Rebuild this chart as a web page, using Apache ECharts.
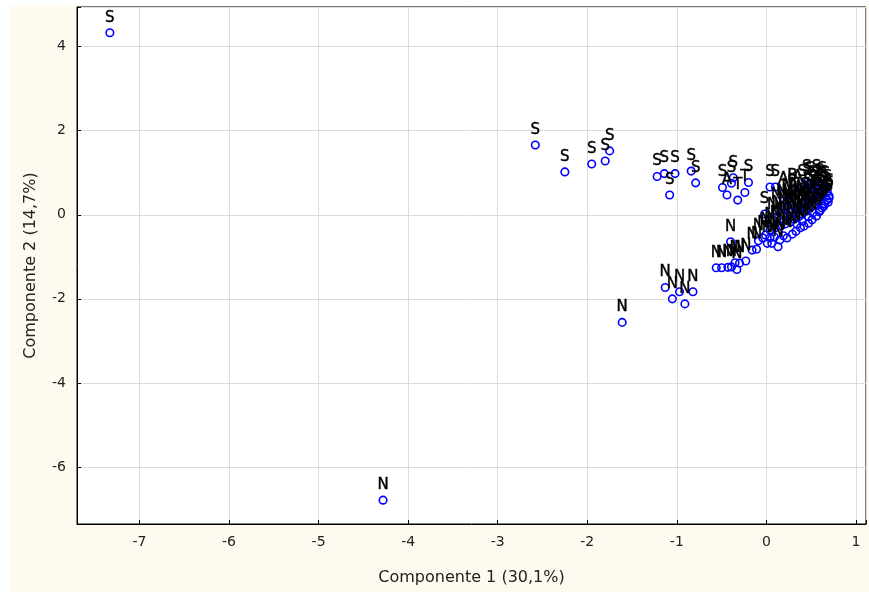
<!DOCTYPE html>
<html>
<head>
<meta charset="utf-8">
<title>Componentes principales</title>
<script src="https://cdn.jsdelivr.net/npm/echarts@6/dist/echarts.min.js"></script>
<style>
  html, body { margin: 0; padding: 0; background: #ffffff; }
  #wrap { position: relative; width: 869px; height: 592px; background: #ffffff; }
  #paper { position: absolute; left: 10px; top: 5px; width: 859px; height: 587px; background: #fffaf0; }
  #chart { position: absolute; left: 0; top: 0; width: 869px; height: 592px; }
</style>
</head>
<body>
<div id="wrap">
  <div id="paper"></div>
  <div id="chart"></div>
</div>
<script>
// Scores on the first two principal components, one entry per sample
const comp1 = [
  -7.33, -4.28, -2.58, -2.25, -1.95, -1.80, -1.75, -1.61,
  -1.22, -1.14, -1.02, -1.08, -0.84, -0.79,
  -1.13, -1.05, -0.97, -0.91, -0.82,
  -0.49, -0.44, -0.39, -0.32, -0.24, -0.20, -0.37,
  -0.56, -0.50, -0.43, -0.39, -0.35, -0.33, -0.30, -0.23, -0.40,
  -0.16, -0.11, -0.09, 0.01, 0.06, 0.13, -0.04, -0.01, 0.04,
  0.09, 0.15, 0.19, 0.23, 0.29, 0.33, 0.38, 0.42, 0.47, 0.51, 0.56,
  0.59, 0.62, 0.65, 0.68, 0.70, 0.68, 0.64,
  0.04, 0.10, 0.16, 0.21, 0.27, 0.31, 0.36, 0.40, 0.44, 0.49,
  0.53, 0.57, 0.60, 0.61, 0.59, 0.56,
  0.07, 0.12, 0.19, 0.25, 0.29, 0.35, 0.39,
  0.43, 0.47, 0.50, 0.52, 0.49, 0.45, 0.40, 0.35, 0.29,
  0.23, 0.17, 0.11,
  0.04, 0.10, 0.19, 0.29, 0.46, -0.02, 0.23, 0.32,
  0.55, 0.58, 0.54, 0.50, 0.46, 0.42, 0.38, 0.33, 0.28,
  0.62, 0.66, 0.70, 0.69, 0.64, 0.60, 0.52, 0.47, 0.40, 0.34
];
const comp2 = [
  4.33, -6.79, 1.66, 1.02, 1.21, 1.28, 1.52, -2.56,
  0.91, 0.98, 0.98, 0.47, 1.04, 0.76,
  -1.73, -2.00, -1.83, -2.12, -1.83,
  0.65, 0.47, 0.75, 0.35, 0.53, 0.77, 0.88,
  -1.26, -1.26, -1.25, -1.24, -1.14, -1.30, -1.15, -1.10, -0.64,
  -0.84, -0.82, -0.62, -0.68, -0.68, -0.76, -0.55, -0.48, -0.55,
  -0.53, -0.60, -0.50, -0.55, -0.46, -0.39, -0.31, -0.27, -0.20, -0.12, -0.03,
  0.07, 0.16, 0.26, 0.35, 0.45, 0.54, 0.64,
  -0.36, -0.31, -0.27, -0.22, -0.17, -0.10, -0.05, 0.02, 0.09, 0.16,
  0.23, 0.33, 0.42, 0.54, 0.69, 0.78,
  -0.12, -0.08, -0.01, 0.07, 0.14, 0.21, 0.28,
  0.35, 0.45, 0.54, 0.64, 0.73, 0.78, 0.66, 0.54, 0.42,
  0.33, 0.21, 0.11,
  0.66, 0.66, 0.50, 0.57, 0.71, 0.02, 0.19, 0.35,
  0.60, 0.50, 0.42, 0.35, 0.25, 0.18, 0.10, 0.03, -0.04,
  0.72, 0.62, 0.40, 0.30, 0.20, 0.10, 0.05, -0.05, -0.15, -0.22
];
const groups = [
  'S', 'N', 'S', 'S', 'S', 'S', 'S', 'N',
  'S', 'S', 'S', 'S', 'S', 'S',
  'N', 'N', 'N', 'N', 'N',
  'S', 'A', 'S', 'T', 'T', 'S', 'S',
  'N', 'N', 'N', 'N', 'N', 'N', 'N', 'N', 'N',
  'N', 'N', 'N', 'N', 'N', 'N', 'N', 'N', 'N',
  'N', 'N', 'N', 'N', 'N', 'N', 'N', 'N', 'N', 'N', 'N',
  'S', 'S', 'S', 'S', 'S', 'S', 'S',
  'N', 'N', 'N', 'N', 'N', 'N', 'N', 'N', 'N', 'N',
  'S', 'S', 'S', 'S', 'S', 'S',
  'N', 'N', 'N', 'N', 'N', 'N', 'N',
  'S', 'S', 'S', 'S', 'S', 'S', 'S', 'A', 'B',
  'N', 'N', 'N',
  'S', 'S', 'A', 'B', 'S', 'S', 'N', 'N',
  'S', 'S', 'S', 'N', 'N', 'N', 'N', 'N', 'N',
  'S', 'S', 'S', 'S', 'S', 'S', 'N', 'N', 'N', 'N'
];

const xAxisTitle = 'Componente 1 (30,1%)';
const yAxisTitle = 'Componente 2 (14,7%)';

const points = comp1.map((x, i) => [x, comp2[i], groups[i]]);

const FONT = '"DejaVu Sans", Verdana, sans-serif';
const intLabel = v => (Math.abs(v - Math.round(v)) < 1e-6 ? String(Math.round(v)) : '');

const chart = echarts.init(document.getElementById('chart'), null, { renderer: 'canvas' });
chart.setOption({
  backgroundColor: 'transparent',
  animation: false,
  textStyle: { fontFamily: FONT },
  grid: {
    left: 77, top: 7, right: 0, bottom: 68,
    show: true, backgroundColor: '#ffffff', borderColor: '#000000', borderWidth: 1
  },
  xAxis: {
    type: 'value',
    min: -7.697, max: 1.112,
    splitNumber: 9,
    name: xAxisTitle,
    nameLocation: 'middle',
    nameGap: 46,
    nameTextStyle: { color: '#222', fontSize: 16, fontFamily: FONT },
    axisLine: { show: true, onZero: false, lineStyle: { color: '#000', width: 1 } },
    axisTick: { show: true, inside: true, length: 4, lineStyle: { color: '#000' } },
    axisLabel: { formatter: intLabel, color: '#222', fontSize: 14, margin: 11, fontFamily: FONT },
    splitLine: { show: true, lineStyle: { color: '#dcdcdc', width: 1 } }
  },
  yAxis: {
    type: 'value',
    min: -7.357, max: 4.944,
    splitNumber: 6,
    name: yAxisTitle,
    nameLocation: 'middle',
    nameGap: 38,
    nameTextStyle: { color: '#222', fontSize: 16, fontFamily: FONT },
    axisLine: { show: true, onZero: false, lineStyle: { color: '#000', width: 1 } },
    axisTick: { show: true, inside: true, length: 4, lineStyle: { color: '#000' } },
    axisLabel: { formatter: intLabel, color: '#222', fontSize: 14, margin: 11, fontFamily: FONT },
    splitLine: { show: true, lineStyle: { color: '#dcdcdc', width: 1 } }
  },
  series: [{
    type: 'scatter',
    data: points,
    symbol: 'circle',
    symbolSize: 7.5,
    itemStyle: { color: 'rgba(0,0,0,0)', borderColor: '#0000ff', borderWidth: 1.6, opacity: 1 },
    label: {
      show: true,
      position: 'top',
      distance: 3,
      formatter: p => p.data[2],
      color: '#000',
      fontSize: 15,
      fontFamily: FONT,
      textBorderColor: '#000',
      textBorderWidth: 0.4
    },
    emphasis: { disabled: true }
  }]
});
</script>
</body>
</html>
